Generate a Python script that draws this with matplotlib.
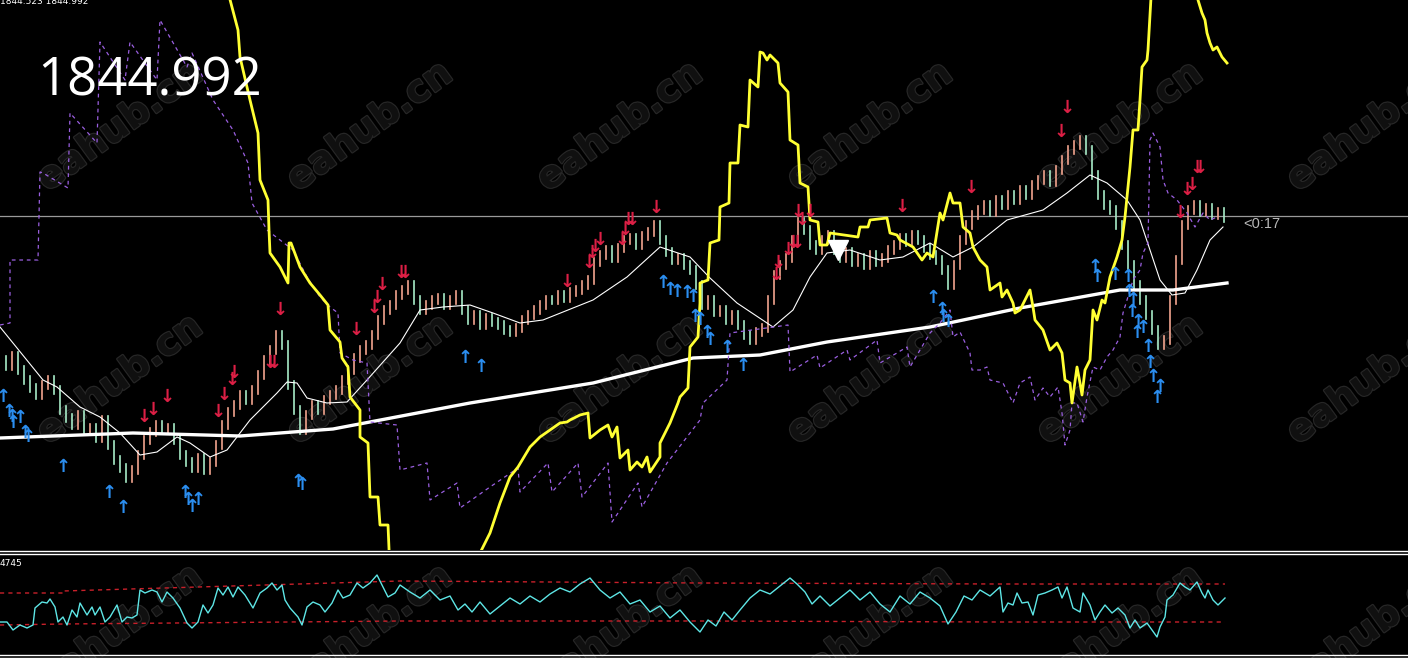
import numpy as np
import matplotlib
matplotlib.use('Agg')
import matplotlib.pyplot as plt
import matplotlib.patheffects as pe

# ---------------- DATA (chart levels, screen-row units, top = 0) ----------------
bar_step = 6
close = [
    360, 366, 356, 370, 380, 388, 395, 385, 380, 390,
    410, 418, 425, 415, 430, 428, 438, 420, 445, 460,
    468, 478, 470, 455, 440, 432, 425, 430, 428, 440,
    455, 462, 468, 458, 470, 462, 445, 425, 412, 405,
    395, 400, 390, 375, 360, 350, 335, 345, 385, 410,
    430, 415, 405, 410, 400, 395, 390, 380, 370, 358,
    350, 345, 335, 320, 310, 305, 295, 290, 285, 300,
    310, 305, 300, 298, 305, 300, 295, 310, 320, 315,
    325, 318, 322, 325, 330, 332, 328, 320, 315, 310,
    305, 300, 300, 295, 298, 292, 290, 285, 280, 262,
    255, 250, 258, 248, 240, 238, 245, 236, 232, 225,
    240, 252, 260, 258, 265, 270, 285, 305, 300, 312,
    310, 320, 315, 325, 335, 340, 332, 328, 300, 275,
    265, 258, 240, 222, 230, 245, 250, 240, 235, 250,
    258, 252, 262, 258, 265, 255, 262, 258, 250, 245,
    238, 242, 235, 240, 248, 255, 260, 270, 285, 265,
    240, 225, 215, 210, 205, 212, 200, 205, 195, 200,
    190, 195, 185, 180, 175, 182, 170, 160, 150, 145,
    140, 150, 175, 195, 205, 210, 225, 245, 265, 285,
    300, 315, 330, 345, 340, 300, 260, 225, 210, 205,
    212, 208, 215, 212, 218,
]

ma_fast_x = [0, 43, 57, 80, 100, 120, 140, 157, 177, 190, 210, 227, 250, 277, 287, 297,
             307, 327, 347, 367, 400, 420, 443, 470, 493, 520, 543, 593, 627, 660, 690,
             710, 737, 773, 793, 810, 827, 850, 880, 903, 930, 953, 973, 1007, 1043,
             1067, 1090, 1107, 1127, 1140, 1160, 1172, 1185, 1197, 1210, 1223]
ma_fast_y = [327, 380, 387, 407, 417, 433, 455, 452, 437, 443, 457, 450, 420, 393, 382, 383,
             398, 403, 402, 380, 343, 310, 307, 305, 313, 323, 320, 300, 277, 247, 257,
             278, 303, 327, 310, 277, 253, 250, 260, 257, 243, 257, 247, 220, 210,
             193, 175, 183, 200, 220, 280, 295, 293, 270, 240, 227]

ma_slow_x = [0, 133, 240, 333, 470, 593, 693, 760, 827, 930, 1020, 1120, 1173, 1227]
ma_slow_y = [438, 433, 436, 429, 403, 383, 358, 355, 342, 327, 308, 290, 290, 283]

yellow_x = [228, 238, 240, 250, 258, 260, 268, 269, 270, 280, 288, 289, 291, 300, 310, 320,
            328, 330, 340, 342, 348, 350, 360, 360, 368, 370, 378, 380, 388, 392, 477,
            480, 490, 500, 510, 518, 530, 540, 550, 560, 567, 570, 580, 588, 590, 600,
            608, 612, 617, 620, 628, 630, 637, 642, 647, 650, 660, 660, 670, 678, 680,
            688, 690, 698, 700, 700, 708, 710, 719, 720, 729, 730, 738, 740, 748, 750,
            758, 760, 763, 767, 770, 778, 780, 788, 790, 798, 800, 808, 810, 818, 820,
            827, 830, 858, 860, 868, 870, 887, 890, 897, 900, 913, 922, 927, 933, 940,
            943, 950, 953, 960, 963, 970, 973, 980, 987, 990, 1000, 1002, 1007, 1013,
            1015, 1020, 1030, 1033, 1035, 1043, 1050, 1057, 1062, 1065, 1070, 1072, 1077,
            1080, 1082, 1085, 1090, 1093, 1097, 1102, 1105, 1110, 1117, 1122, 1125, 1130,
            1133, 1138, 1140, 1142, 1147, 1148, 1152, 1196, 1198, 1202, 1205, 1207, 1210,
            1213, 1217, 1222, 1227]
yellow_y = [-8, 30, 57, 100, 133, 180, 200, 230, 253, 267, 283, 243, 243, 267, 283, 295,
            305, 330, 342, 358, 367, 397, 410, 437, 443, 497, 497, 525, 525, 620, 620,
            553, 533, 503, 477, 467, 447, 437, 430, 423, 422, 420, 415, 413, 438, 430,
            425, 437, 427, 458, 450, 470, 462, 467, 457, 472, 457, 443, 423, 403, 397,
            388, 347, 337, 303, 283, 280, 243, 240, 207, 203, 163, 163, 125, 127, 80,
            87, 52, 53, 60, 55, 63, 83, 92, 140, 145, 183, 187, 220, 222, 245,
            245, 233, 237, 227, 227, 220, 218, 233, 235, 240, 247, 260, 253, 257, 213,
            220, 193, 203, 203, 227, 233, 247, 260, 267, 290, 283, 297, 290, 303,
            313, 310, 290, 307, 320, 330, 350, 343, 353, 380, 383, 403, 367,
            383, 395, 370, 360, 310, 320, 300, 303, 277, 257, 240, 217, 167,
            130, 130, 100, 67, 60, 50, -20, -20, 0, 13, 20, 33, 43,
            50, 47, 57, 63]

purple_x = [0, 10, 10, 38, 40, 43, 68, 70, 97, 100, 125, 130, 157, 160, 187, 192, 213, 233,
            248, 252, 267, 280, 293, 307, 320, 330, 338, 340, 353, 367, 370, 397, 400, 427,
            430, 457, 460, 490, 518, 520, 548, 552, 578, 582, 608, 612, 638, 642, 667, 700,
            703, 727, 730, 788, 790, 817, 820, 847, 850, 877, 880, 907, 910, 930, 940, 950,
            953, 960, 970, 972, 980, 987, 990, 1003, 1013, 1020, 1030, 1035, 1043, 1050,
            1058, 1062, 1065, 1070, 1072, 1077, 1083, 1087, 1093, 1100, 1107, 1113, 1120,
            1123, 1127, 1133, 1140, 1143, 1148, 1150, 1153, 1160, 1163, 1168, 1177, 1187,
            1195, 1203, 1210, 1217]
purple_y = [325, 323, 260, 260, 172, 173, 188, 113, 143, 42, 80, 42, 80, 20, 67, 53, 100, 130,
            163, 203, 230, 240, 250, 277, 297, 307, 313, 353, 360, 363, 422, 425, 470, 463,
            500, 483, 508, 487, 468, 492, 463, 492, 463, 497, 463, 522, 483, 507, 463, 420,
            403, 380, 333, 325, 372, 355, 368, 350, 360, 340, 363, 347, 367, 333, 323, 310,
            337, 332, 353, 370, 370, 367, 380, 383, 403, 383, 377, 400, 388, 397,
            387, 413, 445, 430, 403, 403, 422, 397, 367, 370, 357, 350, 337,
            313, 300, 280, 270, 253, 243, 140, 133, 147, 180, 193, 200, 213,
            227, 213, 220, 217]

sell_x = [144, 153, 167, 218, 224, 232, 234, 270, 274, 280, 356, 374, 377, 382, 401, 405,
          567, 589, 592, 595, 600, 622, 625, 628, 632, 656, 776, 778, 788, 793, 797, 798,
          802, 810, 902, 971, 1061, 1067, 1180, 1187, 1192, 1197, 1200]
sell_y = [417, 410, 397, 412, 395, 380, 373, 363, 363, 310, 330, 308, 298, 285, 273, 273,
          282, 263, 253, 247, 240, 240, 230, 220, 220, 208, 275, 263, 250, 243, 243, 212,
          220, 212, 207, 188, 132, 108, 213, 190, 185, 168, 168]

buy_x = [3, 9, 12, 13, 20, 25, 28, 63, 109, 123, 185, 188, 192, 198, 298, 302, 465, 481,
         663, 670, 677, 687, 693, 695, 700, 707, 710, 727, 743, 933, 942, 943, 948, 1095,
         1097, 1115, 1128, 1129, 1133, 1132, 1138, 1143, 1137, 1148, 1150, 1153, 1160, 1157]
buy_y = [397, 412, 417, 423, 418, 433, 437, 467, 493, 508, 493, 500, 507, 500, 482, 485, 358, 367,
         283, 290, 292, 293, 297, 317, 320, 333, 340, 348, 366, 298, 310, 317, 322, 267,
         277, 275, 277, 292, 300, 312, 322, 328, 333, 347, 363, 377, 387, 398]

osc_x = [0, 7, 13, 20, 27, 33, 35, 42, 47, 50, 55, 58, 63, 67, 72, 77, 80, 87, 92, 95, 100,
         105, 110, 117, 122, 127, 132, 137, 140, 145, 152, 157, 162, 167, 173, 180, 187,
         192, 198, 203, 208, 213, 218, 223, 228, 233, 238, 245, 253, 260, 267, 272, 277,
         282, 285, 290, 298, 302, 307, 313, 320, 325, 332, 338, 343, 350, 357, 363, 370,
         377, 382, 388, 395, 400, 410, 420, 430, 440, 450, 458, 465, 472, 480, 490, 500,
         510, 520, 530, 540, 550, 560, 570, 580, 590, 600, 610, 620, 630, 640, 650, 660,
         670, 680, 690, 700, 708, 716, 724, 732, 740, 750, 760, 770, 780, 790, 797, 805,
         812, 820, 830, 840, 850, 860, 870, 880, 890, 900, 910, 920, 930, 940, 948, 956,
         964, 972, 980, 990, 1000, 1003, 1008, 1013, 1017, 1022, 1028, 1033, 1038, 1045,
         1052, 1058, 1062, 1067, 1073, 1080, 1083, 1090, 1095, 1100, 1105, 1112, 1118,
         1125, 1130, 1135, 1140, 1147, 1157, 1160, 1165, 1167, 1173, 1180, 1185, 1190,
         1197, 1202, 1205, 1208, 1213, 1218, 1225]
osc_y = [622, 622, 630, 625, 628, 625, 608, 602, 603, 599, 607, 622, 617, 625, 610, 617, 603,
         615, 607, 615, 607, 622, 617, 605, 622, 617, 618, 615, 590, 593, 590, 592, 602, 592,
         598, 608, 623, 628, 622, 605, 613, 605, 588, 595, 587, 597, 587, 595, 608, 593, 588,
         583, 590, 585, 600, 608, 617, 625, 607, 602, 605, 612, 603, 590, 598, 595, 583, 588,
         583, 575, 585, 597, 593, 585, 592, 598, 590, 600, 596, 610, 604, 612, 602, 614, 606,
         598, 604, 596, 602, 594, 588, 592, 584, 578, 590, 598, 592, 604, 600, 612, 606,
         618, 610, 622, 632, 620, 626, 612, 620, 610, 598, 590, 594, 586, 578, 584, 592,
         604, 596, 606, 598, 590, 600, 592, 604, 612, 596, 604, 592, 598, 606, 624, 612,
         596, 600, 590, 596, 587, 612, 603, 605, 593, 603, 602, 615, 595, 593,
         590, 587, 598, 587, 608, 612, 593, 605, 620, 612, 605, 613, 608,
         615, 628, 620, 628, 623, 637, 627, 617, 600, 595, 583, 587, 590,
         582, 593, 598, 590, 600, 605, 598]

band_hi_x = [0, 63, 63, 400, 700, 1000, 1225]
band_hi_y = [593, 593, 591, 581, 583, 584, 584]
band_lo_x = [0, 63, 400, 700, 1000, 1225]
band_lo_y = [625, 624, 621, 621, 622, 622]

bid_level = 216
price_label = "1844.992"
top_label = "1844.523 1844.992"
timer_label = "<0:17"
sub_label = "4745"
watermark = "eahub.cn"
wm_x = [120, 370, 620, 870, 1120, 1370]
wm_y = [127, 380, 630]

# ---------------- FIGURE ----------------
W, H = 1408, 659
fig = plt.figure(figsize=(W / 100, H / 100), dpi=100, facecolor='black')

ax = fig.add_axes([0, 1 - 550 / H, 1, 550 / H], zorder=2)
sub = fig.add_axes([0, 1 - 654 / H, 1, 100 / H], zorder=2)
for a in (ax, sub):
    a.set_facecolor('none')
    a.set_xlim(0, W)
    a.axis('off')
ax.set_ylim(550, 0)
sub.set_ylim(654, 554)

# watermarks behind everything
for wy in wm_y:
    for wx in wm_x:
        fig.text(wx / W, 1 - wy / H, watermark, fontsize=27, rotation=36,
                 color='#101010', ha='center', va='center', zorder=0.5,
                 fontweight='bold',
                 path_effects=[pe.withStroke(linewidth=2.0, foreground='#262626'),
                               pe.Normal()])

# bid line
ax.axhline(bid_level, color='#9a9a9a', lw=0.9, zorder=1)

# candles
xs = np.arange(len(close)) * bar_step
for i in range(1, len(close)):
    y0, y1 = close[i - 1], close[i]
    col = '#f2a48e' if y1 < y0 else '#a8ecc8'
    lo, hi = max(y0, y1) + 4, min(y0, y1) - 4
    ax.plot([xs[i], xs[i]], [lo, hi], color=col, lw=1.2, zorder=3)

ax.plot(ma_slow_x, ma_slow_y, color='white', lw=2.4, zorder=4)
ax.plot(ma_fast_x, ma_fast_y, color='white', lw=0.8, zorder=4)
ax.plot(purple_x, purple_y, color='#9a5fe0', lw=0.9, ls=(0, (3, 3)), zorder=4)
ax.plot(yellow_x, yellow_y, color='#ffff33', lw=2.0, zorder=5)

for x, y in zip(sell_x, sell_y):
    ax.text(x, y, '↓', color='#dc1f45', fontsize=13, fontweight='bold',
            ha='center', va='center', zorder=6)
for x, y in zip(buy_x, buy_y):
    ax.text(x, y, '↑', color='#2b8ef0', fontsize=13, fontweight='bold',
            ha='center', va='center', zorder=6)

ax.plot([838], [250], marker='v', ms=15, color='white', zorder=7)

ax.text(37, 82, price_label, color='white', fontsize=38, family='Open Sans',
        ha='left', va='center', zorder=8)
ax.text(0, 1, top_label, color='white', fontsize=6.5, ha='left', va='center', zorder=8)
ax.text(1243, 224, timer_label, color='#b8b8b8', fontsize=10.5,
        family='Liberation Sans', ha='left', va='center', zorder=8)

# sub window
sub.plot(band_hi_x, band_hi_y, color='#c8202a', lw=1.0, ls=(0, (3, 3)), zorder=3)
sub.plot(band_lo_x, band_lo_y, color='#c8202a', lw=1.0, ls=(0, (3, 3)), zorder=3)
sub.plot(osc_x, osc_y, color='#5ee6e6', lw=1.0, zorder=4)
sub.text(0, 563, sub_label, color='white', fontsize=6.5, ha='left', va='center')

# window separators
for yy in (550.5, 553.5, 654.5, 657.5):
    fig.add_artist(plt.Line2D([0, 1], [1 - yy / H, 1 - yy / H], color='white',
                              lw=1.0, transform=fig.transFigure, zorder=9))

fig.savefig('out.png', dpi=100, facecolor='black')
